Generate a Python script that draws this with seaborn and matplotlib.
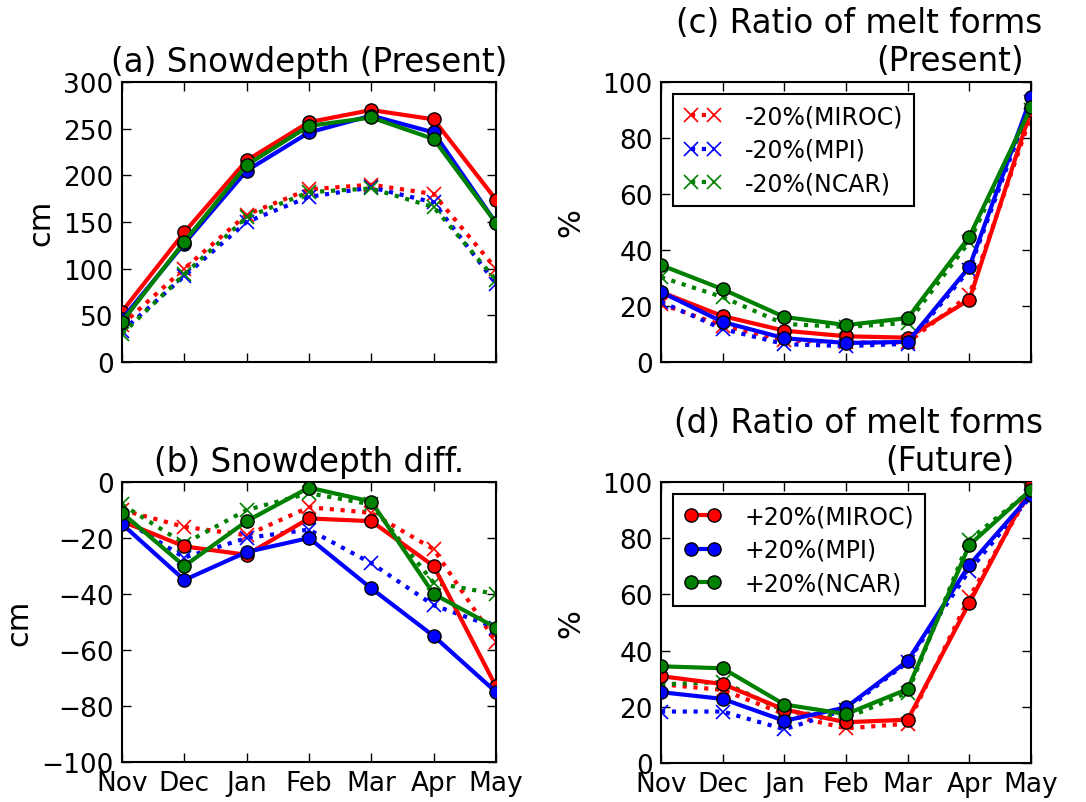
import matplotlib
matplotlib.use("Agg")
import matplotlib.pyplot as plt
import seaborn as sns
import numpy as np
from matplotlib.lines import Line2D

# ---------------- data ----------------
months = ["Nov", "Dec", "Jan", "Feb", "Mar", "Apr", "May"]
models = ["MIROC", "MPI", "NCAR"]
colors = ["#ff0000", "#0000ff", "#008000"]

# (a) Snowdepth (Present)
a_plus_miroc = [54, 139, 216, 257, 270, 260, 174]
a_plus_mpi = [46, 127, 205, 246, 264, 246, 149]
a_plus_ncar = [43, 129, 211, 253, 262, 239, 149]
a_minus_miroc = [40, 100, 158, 185, 190, 180, 100]
a_minus_mpi = [33, 92, 150, 177, 187, 171, 84]
a_minus_ncar = [30, 94, 155, 182, 186, 166, 88]

# (b) Snowdepth diff.
b_plus_miroc = [-14, -23, -26, -13, -14, -30, -73]
b_plus_mpi = [-15, -35, -25, -20, -38, -55, -75]
b_plus_ncar = [-11, -30, -14, -2, -7, -40, -52]
b_minus_miroc = [-10, -16, -19, -9, -11, -24, -57]
b_minus_mpi = [-13, -27, -20, -17, -29, -44, -52]
b_minus_ncar = [-8, -22, -10, -4, -8, -36, -40]

# (c) Ratio of melt forms (Present)
c_plus_miroc = [25, 16.4, 11.2, 9.2, 8.7, 22.3, 90]
c_plus_mpi = [25, 14.3, 8.5, 6.8, 7.2, 34, 94.5]
c_plus_ncar = [34.6, 26, 16.1, 13.2, 15.7, 44.8, 91]
c_minus_miroc = [20.7, 13, 7.8, 7, 7, 24, 88]
c_minus_mpi = [21.5, 11.8, 6.4, 5.7, 6.5, 33, 93]
c_minus_ncar = [30.3, 23.2, 13.6, 12.5, 14, 43, 90]

# (d) Ratio of melt forms (Future)
d_plus_miroc = [30.9, 28.1, 19, 14.5, 15.4, 57, 98.5]
d_plus_mpi = [25.2, 22.8, 15, 19.8, 36.4, 70.5, 95.5]
d_plus_ncar = [34.4, 33.7, 20.8, 17.4, 26.3, 77.6, 97.3]
d_minus_miroc = [28, 26, 17.4, 12.3, 14, 59, 97]
d_minus_mpi = [18.3, 18.3, 12, 19, 36, 68.5, 95]
d_minus_ncar = [28, 28.8, 18.5, 16, 25, 79.5, 97]

yticks_a = [0, 50, 100, 150, 200, 250, 300]
yticks_b = [-100, -80, -60, -40, -20, 0]
yticks_cd = [0, 20, 40, 60, 80, 100]

# ---------------- style ----------------
sns.set_style("ticks")
plt.rcParams.update({
    "font.family": ["DejaVu Sans"],
    "text.color": "black",
    "axes.labelcolor": "black",
    "xtick.direction": "in",
    "ytick.direction": "in",
    "xtick.top": True,
    "ytick.right": True,
    "xtick.major.size": 6.5,
    "ytick.major.size": 6.5,
    "xtick.major.width": 1.0,
    "ytick.major.width": 1.0,
    "xtick.major.pad": 6,
    "ytick.major.pad": 6,
    "xtick.labelsize": 19,
    "ytick.labelsize": 19,
    "axes.linewidth": 1.5,
    "axes.edgecolor": "black",
    "xtick.color": "black",
    "ytick.color": "black",
})

fig = plt.figure(figsize=(10.86, 8.03), dpi=100)
ax_a = fig.add_axes([0.1123, 0.5479, 0.3444, 0.3487])
ax_b = fig.add_axes([0.1123, 0.0498, 0.3444, 0.3487])
ax_c = fig.add_axes([0.6087, 0.5479, 0.3407, 0.3487])
ax_d = fig.add_axes([0.6087, 0.0486, 0.3407, 0.3499])

xpos = np.arange(len(months))
dot_style = (0, (1, 1.6))


def draw(ax, minus_sets, plus_sets):
    minus_handles, plus_handles = [], []
    for vals, col, mod in zip(minus_sets, colors, models):
        sns.lineplot(x=xpos, y=vals, ax=ax, color=col, linestyle=dot_style,
                     lw=3, marker="x", ms=10, mew=1.2, mec=col, mfc=col,
                     zorder=2, legend=False)
        minus_handles.append(Line2D([], [], color=col, linestyle=dot_style, lw=3,
                                    marker="x", ms=10, mew=1.2, mec=col,
                                    label="-20%(" + mod + ")"))
    for vals, col, mod in zip(plus_sets, colors, models):
        sns.lineplot(x=xpos, y=vals, ax=ax, color=col, linestyle="-",
                     lw=3, marker="o", ms=9.5, mew=1.0, mec="black", mfc=col,
                     zorder=3, legend=False)
        plus_handles.append(Line2D([], [], color=col, linestyle="-", lw=3,
                                   marker="o", ms=9.5, mew=1.0, mec="black", mfc=col,
                                   label="+20%(" + mod + ")"))
    ax.set_xlim(0, len(months) - 1)
    ax.set_xticks(xpos)
    for sp in ax.spines.values():
        sp.set_visible(True)
        sp.set_linewidth(1.5)
        sp.set_color("black")
    ax.tick_params(axis="both", which="major", direction="in", top=True, right=True,
                   colors="black")
    return minus_handles, plus_handles


draw(ax_a, [a_minus_miroc, a_minus_mpi, a_minus_ncar], [a_plus_miroc, a_plus_mpi, a_plus_ncar])
draw(ax_b, [b_minus_miroc, b_minus_mpi, b_minus_ncar], [b_plus_miroc, b_plus_mpi, b_plus_ncar])
mh_c, ph_c = draw(ax_c, [c_minus_miroc, c_minus_mpi, c_minus_ncar], [c_plus_miroc, c_plus_mpi, c_plus_ncar])
mh_d, ph_d = draw(ax_d, [d_minus_miroc, d_minus_mpi, d_minus_ncar], [d_plus_miroc, d_plus_mpi, d_plus_ncar])

ax_a.set_ylim(0, 300)
ax_a.set_yticks(yticks_a)
ax_b.set_ylim(-100, 0)
ax_b.set_yticks(yticks_b)
for ax in (ax_c, ax_d):
    ax.set_ylim(0, 100)
    ax.set_yticks(yticks_cd)

for ax in (ax_a, ax_c):
    ax.set_xticklabels([])
for ax in (ax_b, ax_d):
    ax.set_xticklabels(months)

ax_a.set_ylabel("cm", fontsize=22, labelpad=6)
ax_b.set_ylabel("cm", fontsize=22, labelpad=6)
ax_c.set_ylabel("%", fontsize=22, labelpad=12)
ax_d.set_ylabel("%", fontsize=22, labelpad=12)

ax_a.set_title("(a) Snowdepth (Present)", fontsize=23.5, pad=8)
ax_b.set_title("(b) Snowdepth diff.", fontsize=23.5, pad=8)

for ax, l1, l2 in ((ax_c, "(c) Ratio of melt forms", "(Present)"),
                   (ax_d, "(d) Ratio of melt forms", "(Future)")):
    ax.set_title(l2, fontsize=23.5, pad=9, x=0.781)
    ax.annotate(l1, xy=(0.535, 1.0), xycoords="axes fraction",
                xytext=(0, 9 + 27), textcoords="offset points",
                ha="center", va="baseline", fontsize=23.5)

for ax, handles in ((ax_c, mh_c), (ax_d, ph_d)):
    leg = ax.legend(handles=handles, loc="upper left", fontsize=17, numpoints=2,
                    handlelength=1.6, handletextpad=1.0, labelspacing=0.4,
                    borderpad=0.45, borderaxespad=0.5, fancybox=False,
                    framealpha=1, edgecolor="black")
    leg.get_frame().set_linewidth(1.5)

fig.savefig("out.png", dpi=100)
